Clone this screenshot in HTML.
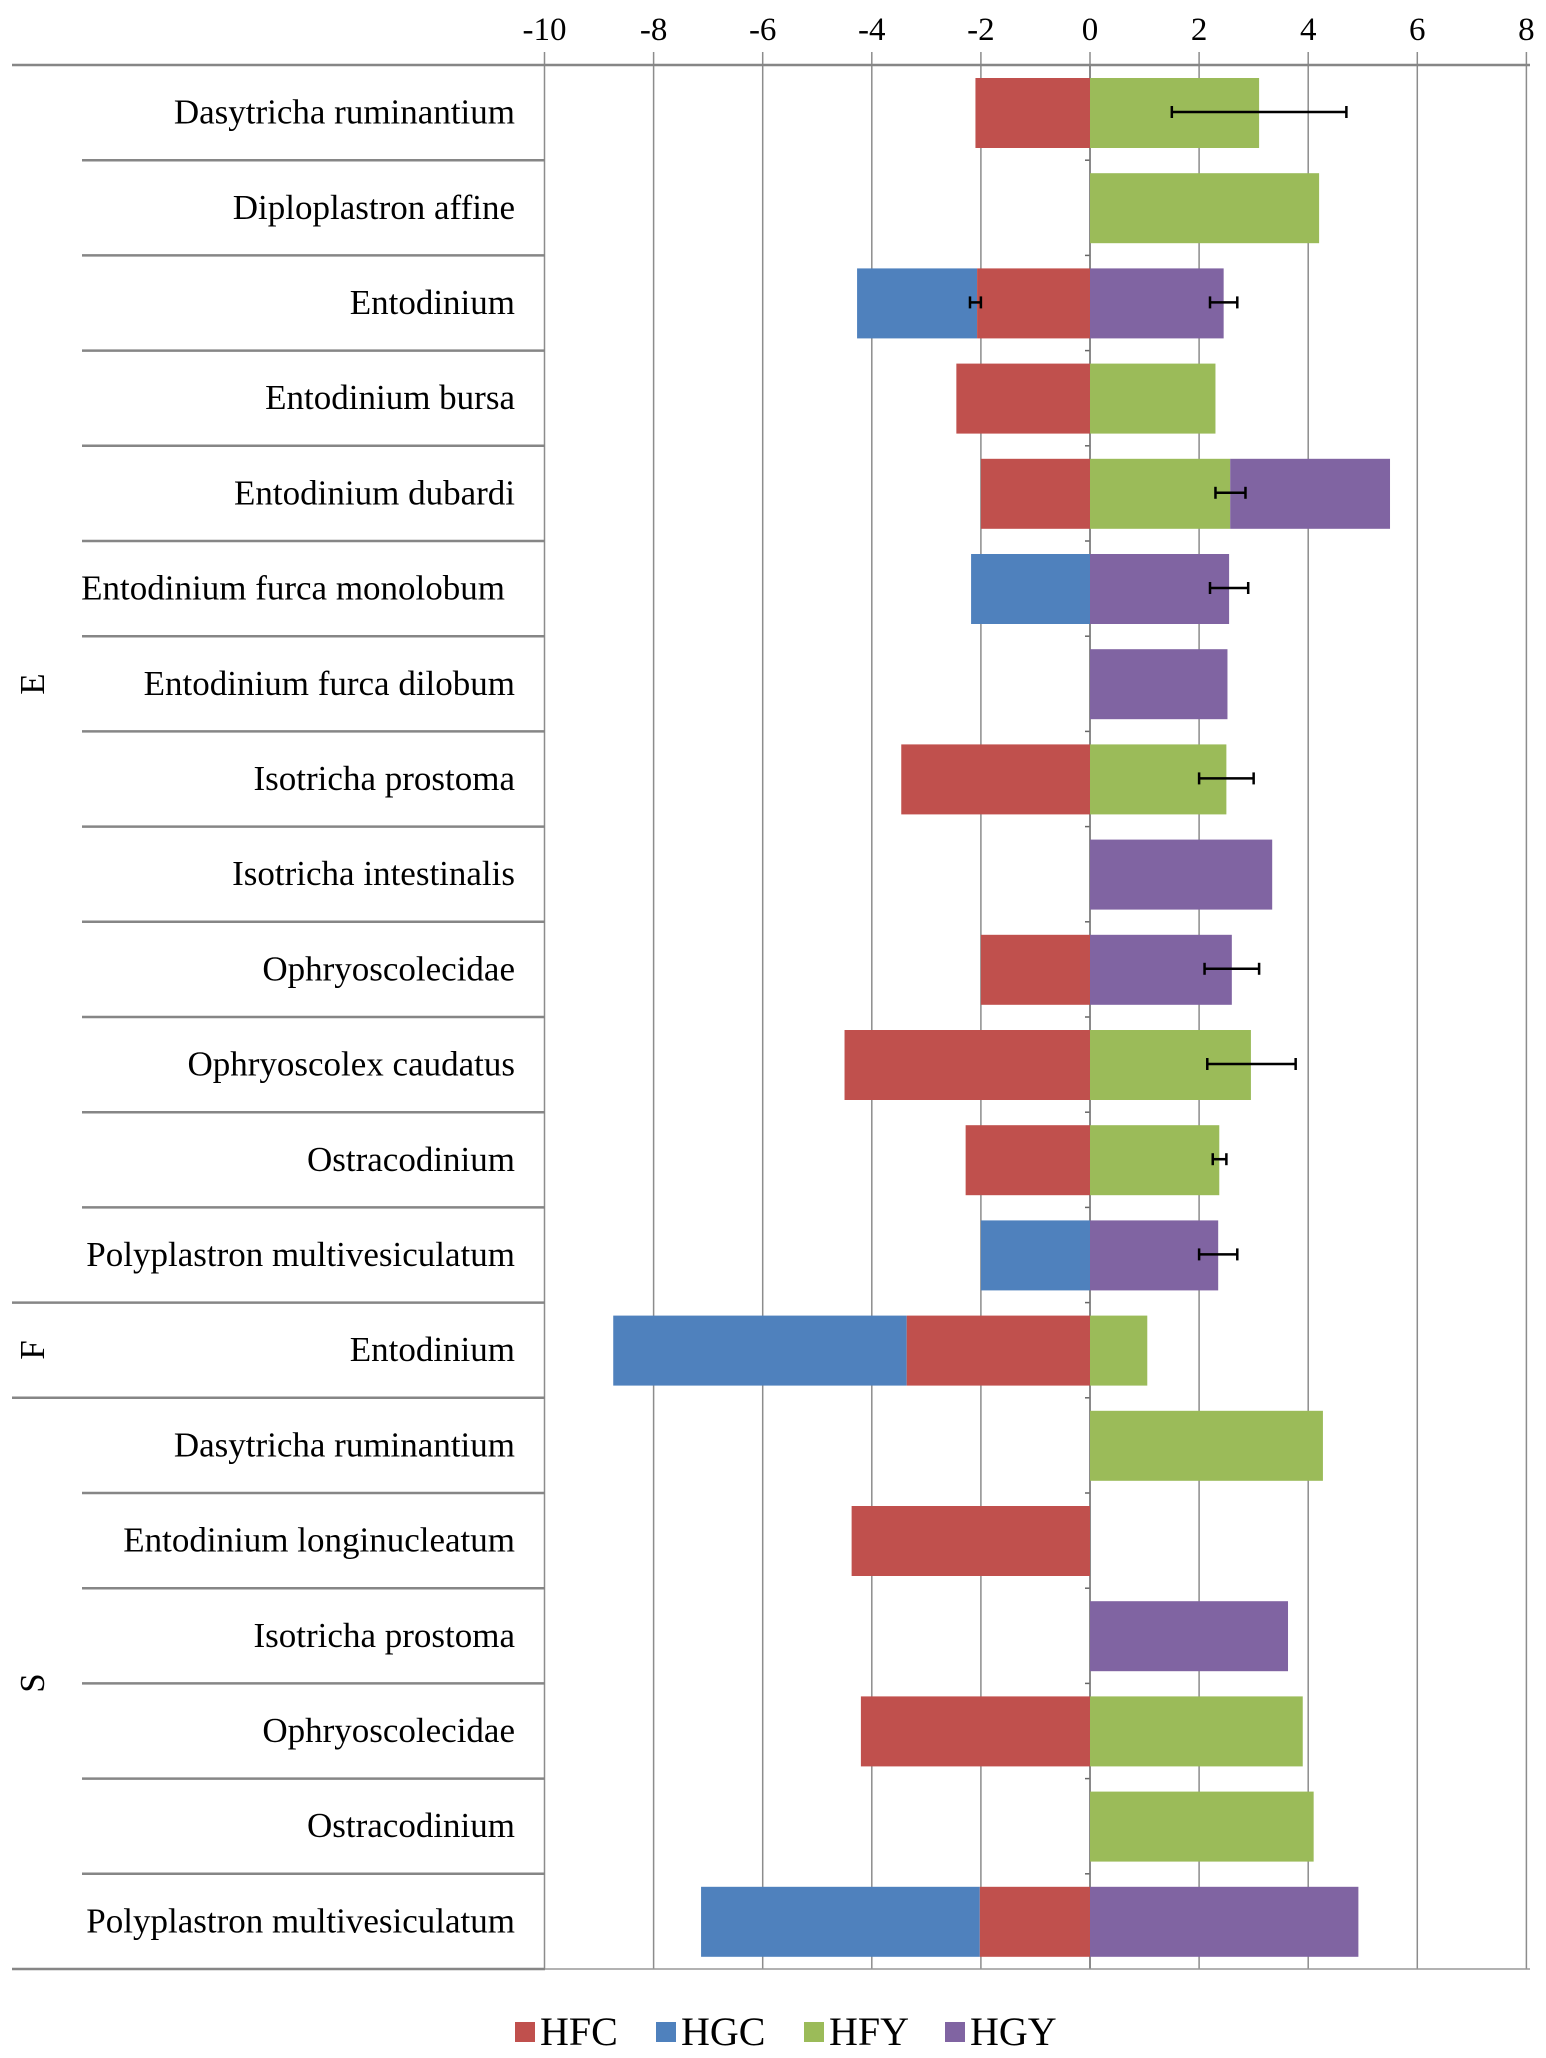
<!DOCTYPE html>
<html><head><meta charset="utf-8"><style>
html,body{margin:0;padding:0;background:#fff;}
svg{display:block;font-family:"Liberation Serif",serif;}
</style></head><body>
<svg width="1546" height="2058" viewBox="0 0 1546 2058" xmlns="http://www.w3.org/2000/svg">
<g id="grid" stroke="#8c8c8c" stroke-width="1.5"></g>
<g id="bars"></g>
<g id="err" stroke="#000" stroke-width="2.5"></g>
<g id="lines" stroke="#868686" stroke-width="2.5"></g>
<g id="txt" font-size="35" fill="#000"></g>
<g font-size="35" fill="#000">
<text transform="translate(44,684) rotate(-90)" text-anchor="middle">E</text>
<text transform="translate(44,1350) rotate(-90)" text-anchor="middle">F</text>
<text transform="translate(44,1683) rotate(-90)" text-anchor="middle">S</text>
</g>
<g font-size="40">
<rect x="515" y="2022" width="20" height="20" fill="#C0504D"/><text x="540" y="2045">HFC</text>
<rect x="656" y="2022" width="20" height="20" fill="#4F81BD"/><text x="681" y="2045">HGC</text>
<rect x="804" y="2022" width="20" height="20" fill="#9BBB59"/><text x="829" y="2045">HFY</text>
<rect x="945" y="2022" width="20" height="20" fill="#8064A2"/><text x="970" y="2045">HGY</text>
</g>
<script>
var NS="http://www.w3.org/2000/svg";
function el(p,t,a,txt){var e=document.createElementNS(NS,t);for(var k in a)e.setAttribute(k,a[k]);if(txt)e.textContent=txt;document.getElementById(p).appendChild(e);}
var X=function(v){return 1090+v*54.55;};
var T=65,H=95.2,B=T+20*H;
for(var v=-10;v<=8;v+=2){el("grid","line",{x1:X(v),x2:X(v),y1:52,y2:B});
el("txt","text",{x:X(v),y:40,"text-anchor":"middle","font-size":"33"},String(v));}
var C={FC:"#C0504D",GC:"#4F81BD",FY:"#9BBB59",GY:"#8064A2"};
var rows=[
["Dasytricha ruminantium",[["FC",-2.1,0]],[["FY",0,3.1]],[[1.5,4.7]]],
["Diploplastron affine",[],[["FY",0,4.2]],[]],
["Entodinium",[["GC",-4.27,-2.07],["FC",-2.07,0]],[["GY",0,2.45]],[[-2.2,-2.0],[2.2,2.7]]],
["Entodinium bursa",[["FC",-2.45,0]],[["FY",0,2.3]],[]],
["Entodinium dubardi",[["FC",-2.0,0]],[["FY",0,2.57],["GY",2.57,5.5]],[[2.3,2.85]]],
["Entodinium furca monolobum ",[["GC",-2.18,0]],[["GY",0,2.55]],[[2.2,2.9]]],
["Entodinium furca dilobum",[],[["GY",0,2.52]],[]],
["Isotricha prostoma",[["FC",-3.46,0]],[["FY",0,2.5]],[[2.0,3.0]]],
["Isotricha intestinalis",[],[["GY",0,3.34]],[]],
["Ophryoscolecidae",[["FC",-2.0,0]],[["GY",0,2.6]],[[2.1,3.1]]],
["Ophryoscolex caudatus",[["FC",-4.5,0]],[["FY",0,2.95]],[[2.15,3.77]]],
["Ostracodinium",[["FC",-2.28,0]],[["FY",0,2.37]],[[2.25,2.5]]],
["Polyplastron multivesiculatum",[["GC",-2.0,0]],[["GY",0,2.35]],[[2.0,2.7]]],
["Entodinium",[["GC",-8.74,-3.36],["FC",-3.36,0]],[["FY",0,1.05]],[]],
["Dasytricha ruminantium",[],[["FY",0,4.27]],[]],
["Entodinium longinucleatum",[["FC",-4.37,0]],[],[]],
["Isotricha prostoma",[],[["GY",0,3.63]],[]],
["Ophryoscolecidae",[["FC",-4.2,0]],[["FY",0,3.9]],[]],
["Ostracodinium",[],[["FY",0,4.1]],[]],
["Polyplastron multivesiculatum",[["GC",-7.13,-2.02],["FC",-2.02,0]],[["GY",0,4.92]],[]]
];
rows.forEach(function(r,i){
 var top=T+i*H;
 el("txt","text",{x:r[0].slice(-1)==" "?505:515,y:top+H/2+11,"text-anchor":"end"},r[0].trim());
 r[1].concat(r[2]).forEach(function(b){el("bars","rect",{x:X(b[1]),y:top+13,width:X(b[2])-X(b[1]),height:70,fill:C[b[0]]});});
 r[3].forEach(function(e){var y=top+47;el("err","line",{x1:X(e[0]),x2:X(e[1]),y1:y,y2:y});
  el("err","line",{x1:X(e[0]),x2:X(e[0]),y1:y-6,y2:y+6});el("err","line",{x1:X(e[1]),x2:X(e[1]),y1:y-6,y2:y+6});});
 if(i>0){var full=(i==13||i==14);el("lines","line",{x1:full?12:82,x2:545,y1:top,y2:top});}
 el("grid","line",{x1:X(0)-5,x2:X(0),y1:top,y2:top,stroke:"#666"});
});
el("grid","line",{x1:X(0),x2:X(0),y1:T,y2:B,stroke:"#777"});
el("lines","line",{x1:12,x2:1530,y1:T,y2:T});
el("lines","line",{x1:12,x2:545,y1:B,y2:B});
el("lines","line",{x1:545,x2:1530,y1:B,y2:B,"stroke-width":"1.5","stroke":"#999"});
</script>
</svg>
</body></html>
